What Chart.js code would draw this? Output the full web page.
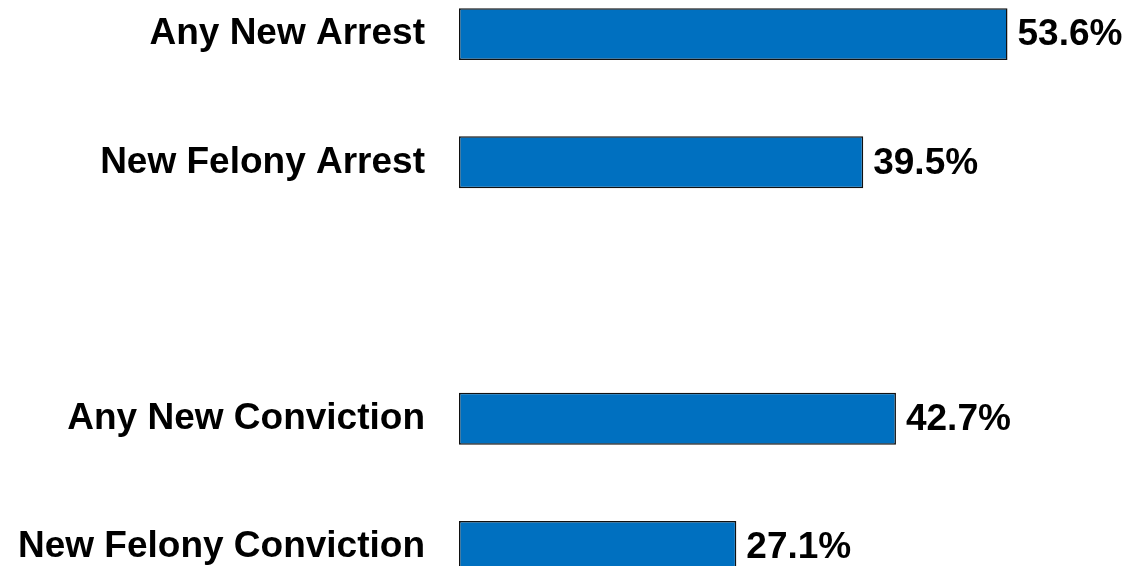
<!DOCTYPE html>
<html>
<head>
<meta charset="utf-8">
<script src="https://cdn.jsdelivr.net/npm/chart.js@4.4.1/dist/chart.umd.min.js"></script>
<style>
  html, body { margin: 0; padding: 0; background: #fff; overflow: hidden; width: 1129px; height: 566px; }
  #wrap { position: absolute; left: 0; top: -30px; width: 1129px; height: 641px; }
</style>
</head>
<body>
<div id="wrap"><canvas id="c"></canvas></div>
<script>
const categories = ['Any New Arrest', 'New Felony Arrest', '', 'Any New Conviction', 'New Felony Conviction'];
const rates = [53.6, 39.5, null, 42.7, 27.1];
const valueLabels = ['53.6%', '39.5%', '', '42.7%', '27.1%'];

const FONT = '"Liberation Sans", Arial, sans-serif';

const valuePlugin = {
  id: 'valueLabels',
  afterDatasetsDraw(chart) {
    const ctx = chart.ctx;
    const meta = chart.getDatasetMeta(0);
    ctx.save();
    ctx.font = 'bold 37px ' + FONT;
    ctx.fillStyle = '#000';
    ctx.textAlign = 'left';
    ctx.textBaseline = 'middle';
    meta.data.forEach((bar, i) => {
      if (rates[i] == null) return;
      ctx.fillText(valueLabels[i], bar.x + 10, bar.y + 1);
    });
    ctx.restore();
  }
};

new Chart(document.getElementById('c'), {
  type: 'bar',
  data: {
    labels: categories,
    datasets: [{
      data: rates,
      backgroundColor: '#0070C0',
      borderColor: '#111111',
      borderWidth: 1.5,
      borderSkipped: false,
      categoryPercentage: 1,
      barPercentage: 0.405
    }]
  },
  options: {
    indexAxis: 'y',
    responsive: true,
    maintainAspectRatio: false,
    animation: false,
    layout: { padding: { left: 0, right: 56, top: 0, bottom: 0 } },
    plugins: { legend: { display: false }, tooltip: { enabled: false } },
    scales: {
      x: { display: false, min: 0, max: 60 },
      y: {
        grid: { display: false, drawTicks: false },
        border: { display: false },
        ticks: {
          autoSkip: false,
          padding: 34,
          color: '#000',
          font: { family: FONT, size: 37, weight: 'bold' }
        },
        afterFit(scale) {
          scale.width = 459;
          scale.paddingTop = 0;
          scale.paddingBottom = 0;
        }
      }
    }
  },
  plugins: [valuePlugin]
});
</script>
</body>
</html>
